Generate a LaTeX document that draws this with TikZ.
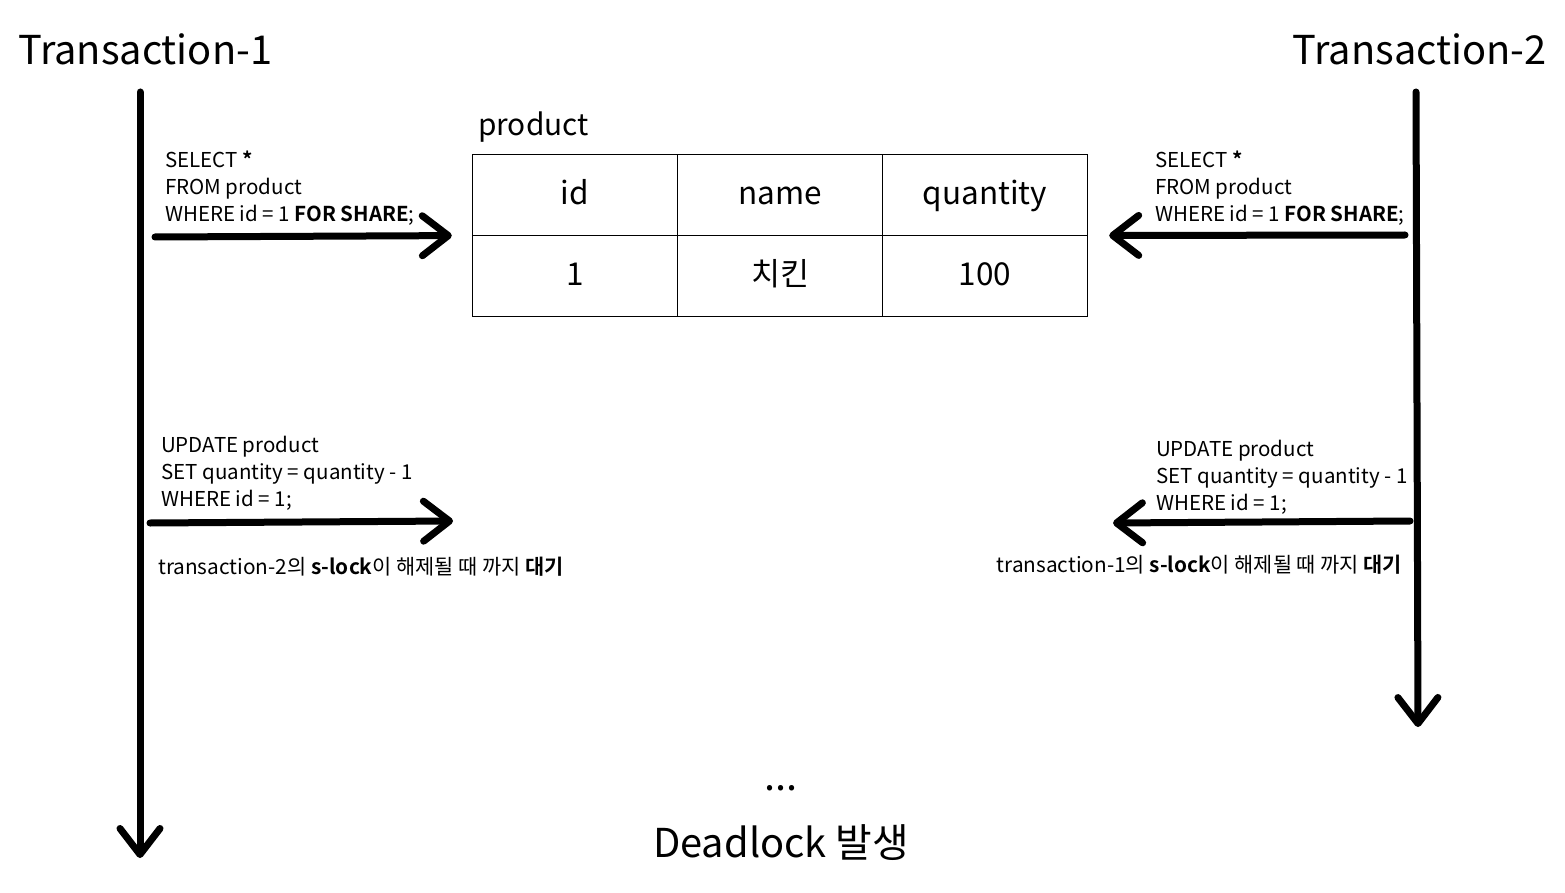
\documentclass[tikz,border=0pt]{standalone}
\usepackage{fontspec}
\setmainfont{Noto Sans CJK KR}[BoldFont={Noto Sans CJK KR Bold}]
\usetikzlibrary{arrows.meta,matrix}
\tikzset{
  brush/.style={line width=7pt,line cap=round,-{Straight Barb[length=26pt,width=40pt,round]}},
  title/.style={font=\fontsize{39.8}{46}\selectfont,inner sep=0pt},
  sql/.style={font=\fontsize{20.5}{27}\selectfont,align=left,inner sep=0pt},
  cell/.style={draw,line width=1pt,minimum width=205pt,minimum height=81pt,
    font=\fontsize{31.5}{38}\selectfont,text height=24pt,text depth=6pt}
}
\begin{document}
\begin{tikzpicture}[x=1pt,y=-1pt]
  \useasboundingbox (0,0) rectangle (1565,893);
  \node[title,anchor=base west] (t1) at (18,65) {Transaction-1};
  \node[title,anchor=base east] (t2) at (1547,65) {Transaction-2};
  \coordinate (t1top) at (140,92);
  \coordinate (t1end) at (140,858);
  \coordinate (t2top) at (1416,92);
  \coordinate (t2end) at (1418,727);
  \draw[brush] (t1top) -- (t1end);
  \draw[brush] (t2top) -- (t2end);

  \node[font=\fontsize{29.8}{36}\selectfont,anchor=base west,inner sep=0pt] (tname) at (478,136) {product};
  \matrix (tbl) [matrix of nodes,nodes={cell},inner sep=0pt,column sep=-1pt,row sep=-1pt] at (780,235.5)
    {id & name & quantity\\ 1 & 치킨 & 100\\};

  \node[sql,anchor=north west] (q1) at (165,151) {SELECT \textbf{*}\\FROM product\\WHERE id = 1 \textbf{FOR SHARE};};
  \node[sql,anchor=north west] (q2) at (1155,151) {SELECT \textbf{*}\\FROM product\\WHERE id = 1 \textbf{FOR SHARE};};
  \coordinate (a1) at (155,237);
  \coordinate (b1) at (1405,235);
  \draw[brush,shorten >=20pt] (a1) -- (tbl.west);
  \draw[brush,shorten >=21pt] (b1) -- (tbl.east);

  \node[sql,anchor=north west] (u1) at (161,436) {UPDATE product\\SET quantity = quantity - 1\\WHERE id = 1;};
  \node[sql,anchor=north west] (u2) at (1156,440) {UPDATE product\\SET quantity = quantity - 1\\WHERE id = 1;};
  \coordinate (a2) at (150,523);
  \coordinate (a2e) at (453,521);
  \coordinate (b2) at (1410,521);
  \coordinate (b2e) at (1113,523);
  \draw[brush] (a2) -- (a2e);
  \draw[brush] (b2) -- (b2e);
  \node[sql,font=\fontsize{20.8}{27}\selectfont,anchor=base west] (w1) at (158,574) {transaction-2의 \textbf{s-lock}이 해제될 때 까지 \textbf{대기}};
  \node[sql,font=\fontsize{20.8}{27}\selectfont,anchor=base east] (w2) at (1402,572) {transaction-1의 \textbf{s-lock}이 해제될 때 까지 \textbf{대기}};

  \node[title,anchor=base] (dots) at (781,790) {...};
  \node[title,anchor=base] (dl) at (781,857) {Deadlock 발생};
\end{tikzpicture}
\end{document}
